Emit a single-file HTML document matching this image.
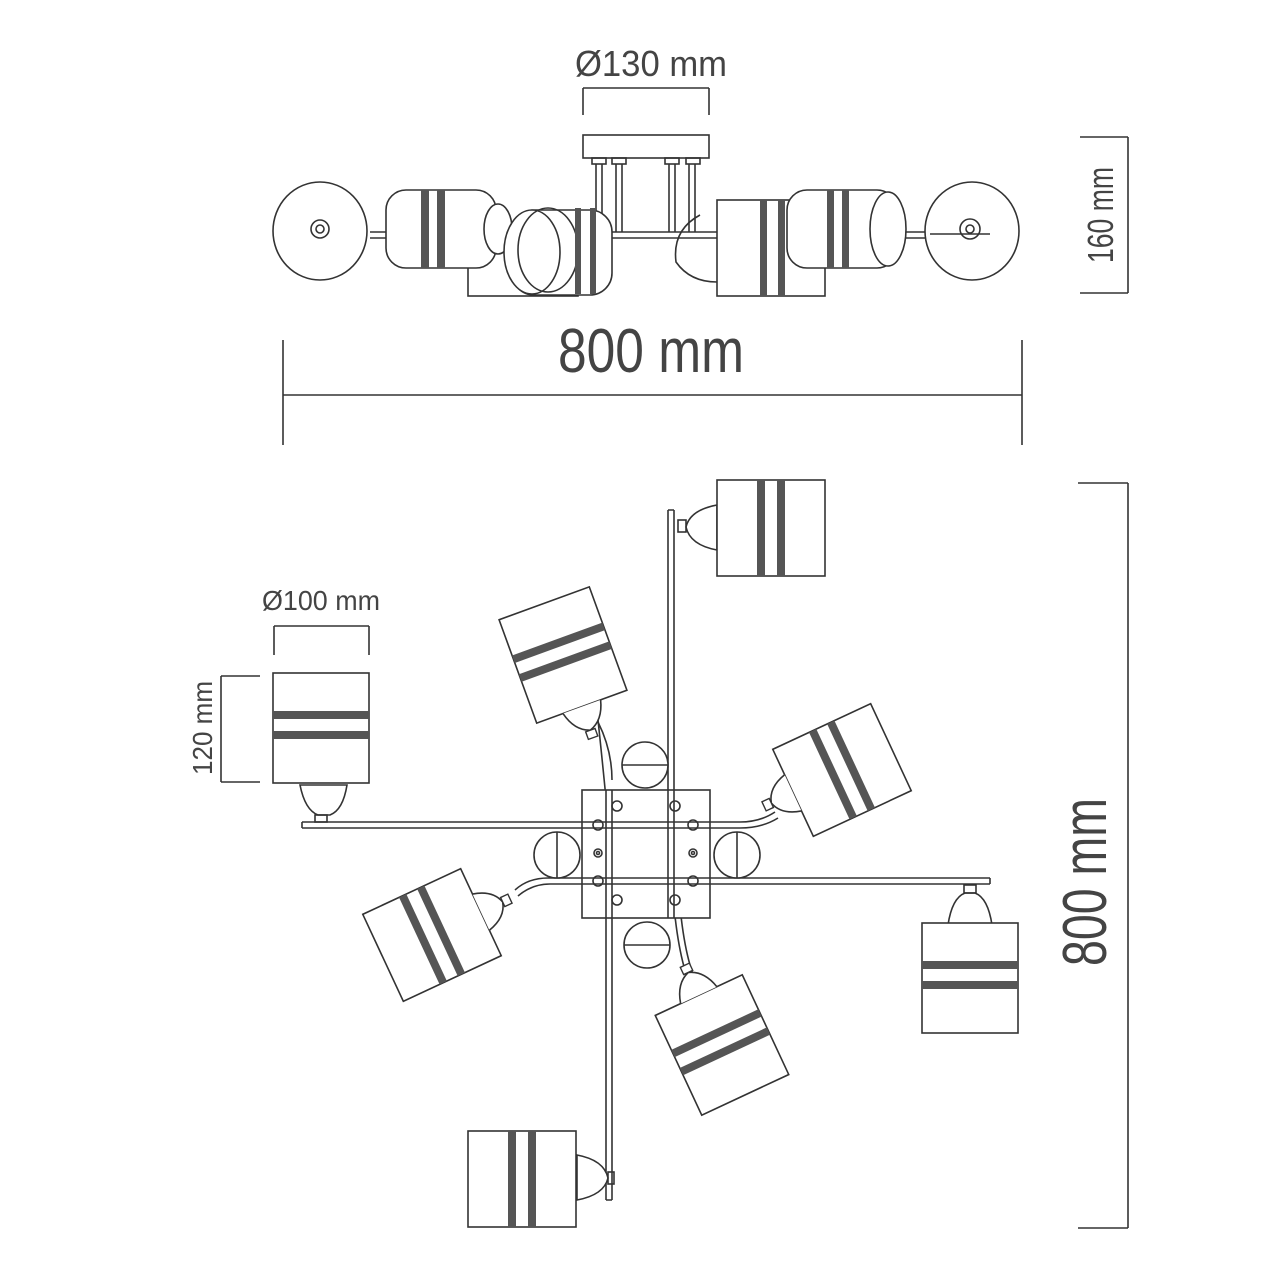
<!DOCTYPE html>
<html><head><meta charset="utf-8"><style>
html,body{margin:0;padding:0;background:#fff;}
svg{display:block;}
text{font-family:"Liberation Sans",sans-serif;fill:#444;}
</style></head><body>
<svg width="1280" height="1280" viewBox="0 0 1280 1280" xmlns="http://www.w3.org/2000/svg">
<defs>
<g id="shadeH">
  <rect x="-48" y="-55" width="96" height="110" fill="#fff" stroke="#333" stroke-width="1.6"/>
  <rect x="-48" y="-17" width="96" height="8" fill="#555"/>
  <rect x="-48" y="3" width="96" height="8" fill="#555"/>
</g>
<g id="shadeV">
  <rect x="-54" y="-48" width="108" height="96" fill="#fff" stroke="#333" stroke-width="1.6"/>
  <rect x="-14" y="-48" width="8" height="96" fill="#555"/>
  <rect x="6" y="-48" width="8" height="96" fill="#555"/>
</g>
</defs>
<g fill="none" stroke="#333" stroke-width="1.6">
<!-- top dimension -->
<line x1="583" y1="88" x2="709" y2="88"/>
<line x1="583" y1="88" x2="583" y2="115"/>
<line x1="709" y1="88" x2="709" y2="115"/>
<!-- 160 bracket -->
<line x1="1128" y1="137" x2="1128" y2="293"/>
<line x1="1080" y1="137" x2="1128" y2="137"/>
<line x1="1080" y1="293" x2="1128" y2="293"/>
<!-- 800 horizontal -->
<line x1="283" y1="395" x2="1022" y2="395"/>
<line x1="283" y1="340" x2="283" y2="445"/>
<line x1="1022" y1="340" x2="1022" y2="445"/>
<!-- 800 vertical -->
<line x1="1128" y1="483" x2="1128" y2="1228"/>
<line x1="1078" y1="483" x2="1128" y2="483"/>
<line x1="1078" y1="1228" x2="1128" y2="1228"/>
<!-- 100 -->
<line x1="274" y1="626" x2="369" y2="626"/>
<line x1="274" y1="626" x2="274" y2="655"/>
<line x1="369" y1="626" x2="369" y2="655"/>
<!-- 120 -->
<line x1="221" y1="676" x2="221" y2="782"/>
<line x1="221" y1="676" x2="260" y2="676"/>
<line x1="221" y1="782" x2="260" y2="782"/>

<!-- SIDE VIEW -->
<rect x="583" y="135" width="126" height="23" fill="#fff"/>
<rect x="592" y="158" width="14" height="6"/><rect x="612" y="158" width="14" height="6"/>
<rect x="665" y="158" width="14" height="6"/><rect x="686" y="158" width="14" height="6"/>
<line x1="596" y1="164" x2="596" y2="232"/><line x1="602" y1="164" x2="602" y2="232"/>
<line x1="616" y1="164" x2="616" y2="232"/><line x1="622" y1="164" x2="622" y2="232"/>
<line x1="669" y1="164" x2="669" y2="232"/><line x1="675" y1="164" x2="675" y2="232"/>
<line x1="689" y1="164" x2="689" y2="232"/><line x1="695" y1="164" x2="695" y2="232"/>
<line x1="370" y1="232" x2="990" y2="232"/><line x1="370" y1="238" x2="990" y2="238"/>
<ellipse cx="320" cy="231" rx="47" ry="49" fill="#fff"/>
<circle cx="320" cy="229" r="9"/><circle cx="320" cy="229" r="4"/>
<ellipse cx="972" cy="231" rx="47" ry="49" fill="#fff"/>
<circle cx="970" cy="229" r="10"/><circle cx="970" cy="229" r="4"/>
<line x1="930" y1="234" x2="990" y2="234"/>
<rect x="468" y="250" width="110" height="46" fill="#fff"/>
<rect x="386" y="190" width="110" height="78" rx="20" fill="#fff"/>
<rect x="421" y="190" width="8" height="78" fill="#555" stroke="none"/>
<rect x="437" y="190" width="8" height="78" fill="#555" stroke="none"/>
<ellipse cx="498" cy="229" rx="14" ry="25" fill="#fff"/>
<rect x="512" y="210" width="100" height="85" rx="22" fill="#fff"/>
<ellipse cx="532" cy="252" rx="28" ry="42" fill="#fff"/>
<ellipse cx="548" cy="250" rx="30" ry="42"/>
<rect x="575" y="208" width="6" height="86" fill="#555" stroke="none"/>
<rect x="590" y="208" width="6" height="86" fill="#555" stroke="none"/>
<path d="M700 215 Q672 230 676 262 Q690 282 717 282"/>
<rect x="717" y="200" width="108" height="96" fill="#fff"/>
<rect x="760" y="200" width="7" height="96" fill="#555" stroke="none"/>
<rect x="778" y="200" width="7" height="96" fill="#555" stroke="none"/>
<rect x="787" y="190" width="110" height="78" rx="20" fill="#fff"/>
<rect x="827" y="190" width="7" height="78" fill="#555" stroke="none"/>
<rect x="842" y="190" width="7" height="78" fill="#555" stroke="none"/>
<ellipse cx="888" cy="229" rx="18" ry="37" fill="#fff"/>

<!-- PLAN VIEW arms -->
<path d="M302 822 L740 822 Q760 822 775 812 M302 828 L740 828 Q762 828 778 818 M302 822 L302 828"/>
<path d="M990 878 L548 878 Q528 878 515 890 M990 884 L550 884 Q532 884 518 896 M990 878 L990 884"/>
<path d="M668 510 L668 820 Q668 848 686 870 M674 510 L674 820 Q674 846 692 866 M668 510 L674 510"/>
<path d="M606 1200 L606 880 Q606 850 590 820 M612 1200 L612 880 Q612 852 598 720 M606 1200 L612 1200"/>
<path d="M612 880 Q614 870 612 860"/>
<path d="M598 722 Q612 750 612 780 M672 880 Q676 950 690 985 M678 880 Q682 950 696 982"/>
<rect x="582" y="790" width="128" height="128" fill="#fff"/>
<line x1="606" y1="790" x2="606" y2="918"/><line x1="612" y1="790" x2="612" y2="918"/>
<line x1="668" y1="790" x2="668" y2="918"/><line x1="674" y1="790" x2="674" y2="918"/>
<line x1="582" y1="822" x2="710" y2="822"/><line x1="582" y1="828" x2="710" y2="828"/>
<line x1="582" y1="878" x2="710" y2="878"/><line x1="582" y1="884" x2="710" y2="884"/>
<circle cx="617" cy="806" r="5"/><circle cx="675" cy="806" r="5"/>
<circle cx="598" cy="825" r="5"/><circle cx="693" cy="825" r="5"/>
<circle cx="598" cy="881" r="5"/><circle cx="693" cy="881" r="5"/>
<circle cx="617" cy="900" r="5"/><circle cx="675" cy="900" r="5"/>
<circle cx="598" cy="853" r="4"/><circle cx="598" cy="853" r="1.5"/>
<circle cx="693" cy="853" r="4"/><circle cx="693" cy="853" r="1.5"/>
<circle cx="645" cy="765" r="23" fill="#fff"/><line x1="622" y1="765" x2="668" y2="765"/>
<circle cx="557" cy="855" r="23" fill="#fff"/><line x1="557" y1="832" x2="557" y2="878"/>
<circle cx="737" cy="855" r="23" fill="#fff"/><line x1="737" y1="832" x2="737" y2="878"/>
<circle cx="647" cy="945" r="23" fill="#fff"/><line x1="624" y1="945" x2="670" y2="945"/>

<!-- sockets -->
<path d="M300 785 Q305 810 318 815 L330 815 Q343 810 347 785 Z" fill="#fff"/>
<rect x="315" y="815" width="12" height="7"/>
<path d="M717 505 Q690 510 686 527 Q690 545 717 550 Z" fill="#fff"/>
<rect x="678" y="520" width="8" height="12"/>
<path d="M948 925 Q952 898 965 893 L975 893 Q988 898 992 925 Z" fill="#fff"/>
<rect x="964" y="885" width="12" height="8"/>
<path d="M577 1155 Q604 1160 608 1178 Q604 1195 577 1200 Z" fill="#fff"/>
<rect x="608" y="1172" width="6" height="12"/>
</g>

<!-- shades -->
<use href="#shadeH" x="321" y="728"/>
<use href="#shadeV" x="771" y="528"/>
<use href="#shadeH" x="970" y="978"/>
<use href="#shadeV" x="522" y="1179"/>
<g transform="translate(563,655) rotate(-20)"><use href="#shadeH"/>
 <path d="M-20 55 Q-15 75 0 80 Q15 75 20 55" fill="#fff" stroke="#333" stroke-width="1.6"/><rect x="-5" y="80" width="10" height="8" fill="#fff" stroke="#333" stroke-width="1.4"/></g>
<g transform="translate(842,770) rotate(-25)"><use href="#shadeV"/>
 <path d="M-54 -20 Q-74 -15 -78 0 Q-74 15 -54 20" fill="#fff" stroke="#333" stroke-width="1.6"/><rect x="-86" y="-5" width="8" height="10" fill="#fff" stroke="#333" stroke-width="1.4"/></g>
<g transform="translate(432,935) rotate(-25)"><use href="#shadeV"/>
 <path d="M54 -20 Q74 -15 78 0 Q74 15 54 20" fill="#fff" stroke="#333" stroke-width="1.6"/><rect x="78" y="-5" width="8" height="10" fill="#fff" stroke="#333" stroke-width="1.4"/></g>
<g transform="translate(722,1045) rotate(-25)"><use href="#shadeH"/>
 <path d="M-20 -55 Q-15 -75 0 -80 Q15 -75 20 -55" fill="#fff" stroke="#333" stroke-width="1.6"/><rect x="-5" y="-88" width="10" height="8" fill="#fff" stroke="#333" stroke-width="1.4"/></g>

<!-- text -->
<text x="651" y="76" font-size="36" text-anchor="middle" textLength="152" lengthAdjust="spacingAndGlyphs">Ø130 mm</text>
<text x="651" y="372" font-size="62" text-anchor="middle" textLength="186" lengthAdjust="spacingAndGlyphs">800 mm</text>
<text x="321" y="610" font-size="28" text-anchor="middle" textLength="118" lengthAdjust="spacingAndGlyphs">Ø100 mm</text>
<text transform="translate(1113,215) rotate(-90)" font-size="36" text-anchor="middle" textLength="96" lengthAdjust="spacingAndGlyphs">160 mm</text>
<text transform="translate(212,728) rotate(-90)" font-size="28" text-anchor="middle" textLength="94" lengthAdjust="spacingAndGlyphs">120 mm</text>
<text transform="translate(1106,882) rotate(-90)" font-size="62" text-anchor="middle" textLength="168" lengthAdjust="spacingAndGlyphs">800 mm</text>
</svg>
</body></html>
